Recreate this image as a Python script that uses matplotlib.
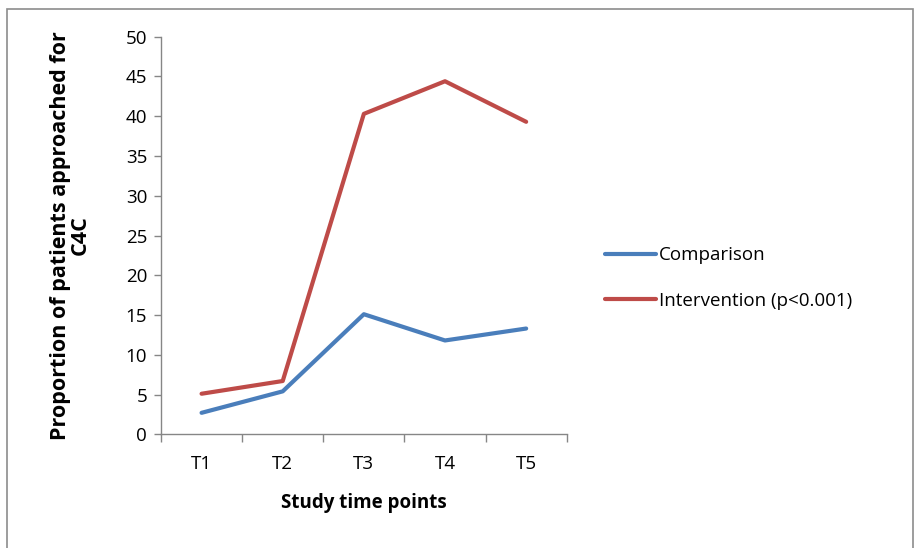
import numpy as np
import matplotlib.pyplot as plt
from matplotlib.patches import Rectangle

# data
time_points = ["T1", "T2", "T3", "T4", "T5"]
comparison = [2.7, 5.4, 15.1, 11.8, 13.3]
intervention = [5.1, 6.7, 40.3, 44.4, 39.3]
y_ticks = [0, 5, 10, 15, 20, 25, 30, 35, 40, 45, 50]

plt.rcParams['font.family'] = ['Open Sans', 'DejaVu Sans']

fig = plt.figure(figsize=(9.2, 5.48), dpi=100)
ax = fig.add_axes([0.175, 0.2075, 0.441, 0.7255])

# grey frame around the whole chart (bottom edge is cut off in the reference)
fig.patches.append(Rectangle((7/920, -0.05), 906/920, 1.05 - 9/548, transform=fig.transFigure,
                             fill=False, edgecolor='#8c8c8c', linewidth=1.2))

x = np.arange(len(time_points))
ax.plot(x, comparison, color='#4a7ebb', lw=3, label='Comparison', solid_capstyle='round')
ax.plot(x, intervention, color='#be4b48', lw=3, label='Intervention (p<0.001)', solid_capstyle='round')

ax.set_xlim(-0.5, len(time_points) - 0.5)
ax.set_ylim(0, 50)
ax.set_yticks(y_ticks)

# category ticks sit between the labels, like Excel
ax.set_xticks(np.arange(-0.5, len(time_points), 1))
ax.set_xticklabels([])
ax.set_xticks(x, minor=True)
ax.set_xticklabels(time_points, minor=True)
ax.tick_params(axis='x', which='major', length=6, color='#868686', width=1)
ax.tick_params(axis='x', which='minor', length=0, pad=15, labelsize=13.5)
ax.tick_params(axis='y', length=5, color='#868686', width=1, labelsize=13.5, pad=5)

for s in ['top', 'right']:
    ax.spines[s].set_visible(False)
for s in ['left', 'bottom']:
    ax.spines[s].set_color('#868686')
    ax.spines[s].set_linewidth(1)

ax.set_xlabel('Study time points', fontweight='bold', fontsize=13.5, labelpad=14)
ax.set_ylabel('Proportion of patients approached for\nC4C', fontweight='bold', fontsize=15.5,
              labelpad=25, linespacing=0.95)

ax.legend(loc='center left', bbox_to_anchor=(1.053, 0.393), frameon=False, fontsize=13.5,
          handlelength=2.7, handletextpad=0.15, labelspacing=1.48)

plt.savefig('out.png', dpi=100)
